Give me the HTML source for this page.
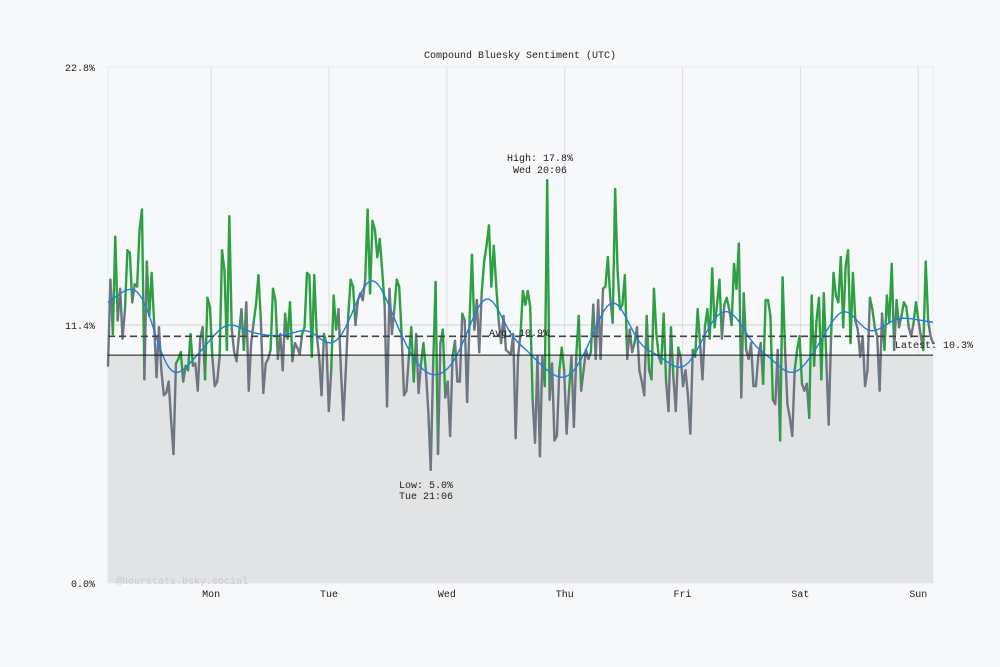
<!DOCTYPE html>
<html><head><meta charset="utf-8"><style>
body{margin:0;background:#f7f8fa;}
svg{display:block;font-family:"Liberation Mono","DejaVu Sans Mono",monospace;}
</style></head><body>
<svg id="chart" width="1000" height="667" viewBox="0 0 1000 667" xmlns="http://www.w3.org/2000/svg">
<rect x="0" y="0" width="1000" height="667" fill="#f7f8fa"/>
<text x="520" y="58" font-size="10" text-anchor="middle" fill="#222">Compound Bluesky Sentiment (UTC)</text>
<g id="grid"></g>
<g id="fill"></g>
<g id="series"></g>
<g id="ann"></g>
<g id="axes"></g>
</svg>
<script>
const yTicks = [0, 11.4, 22.8];
const yTickLabels = ["0.0%", "11.4%", "22.8%"];
const dayLabels = ["Mon","Tue","Wed","Thu","Fri","Sat","Sun"];
const dayOffsets = [0.875,1.875,2.875,3.875,4.875,5.875,6.875];
const avgValue = 10.9;
const latestValue = 10.07;
const values = [
9.6,13.4,11.0,15.3,11.6,13.0,10.8,12.1,14.7,14.6,12.4,13.2,13.1,15.6,16.5,9.0,14.2,11.8,13.7,11.5,9.1,11.3,9.4,8.3,8.4,8.9,7.2,5.7,9.7,9.9,10.2,8.9,9.6,9.4,11.0,9.6,9.7,8.5,10.8,11.3,9.0,12.6,12.2,10.0,8.7,8.9,10.0,14.7,13.8,10.3,16.2,11.2,10.2,9.8,11.0,12.1,10.3,12.4,8.5,10.6,11.5,12.3,13.6,11.6,8.4,9.7,9.9,10.3,13.0,12.5,9.9,11.0,9.4,11.9,10.8,12.4,9.8,10.6,10.4,10.1,11.0,11.3,13.7,13.6,10.0,
13.6,11.0,10.0,8.3,11.0,10.6,7.6,9.4,12.7,11.2,12.1,9.4,7.2,9.4,11.8,13.4,13.1,11.4,12.5,12.8,12.5,13.4,16.5,12.8,16.0,15.6,14.4,15.2,13.8,12.3,7.8,13.0,11.0,12.1,13.4,13.1,11.0,8.3,8.5,10.0,11.3,8.9,11.0,8.4,9.7,10.6,9.4,7.6,5.0,9.6,13.3,5.7,10.6,11.2,8.2,8.9,6.5,10.0,10.7,8.9,8.9,11.9,11.6,8.0,11.6,14.5,11.2,12.5,10.2,12.8,14.2,14.9,15.8,13.1,14.9,13.1,11.6,10.6,11.8,10.3,10.2,10.1,11.0,6.4,10.0,11.0,12.9,12.3,
12.9,12.2,8.1,6.2,10.0,5.6,10.0,8.7,17.8,8.1,9.7,6.3,6.5,9.4,10.4,9.4,6.6,8.5,10.0,6.9,10.1,11.8,8.5,9.4,10.3,9.9,10.2,12.3,9.9,12.5,9.9,13.0,13.1,14.4,12.6,11.5,17.4,13.8,12.1,12.3,13.6,9.9,11.2,10.2,10.6,11.3,9.4,8.9,8.3,11.8,9.4,9.0,13.0,11.0,10.0,9.7,11.9,8.9,7.6,11.3,9.1,7.6,10.4,10.0,8.7,9.4,8.3,6.6,10.3,10.0,12.1,10.6,9.0,11.3,12.1,10.8,13.9,11.3,12.3,13.4,10.8,12.3,12.6,
12.1,11.4,14.1,13.0,15.0,8.2,12.8,10.3,9.9,10.6,8.7,8.7,10.0,10.6,8.8,12.5,12.5,11.8,8.1,7.9,10.3,6.3,13.5,10.4,7.9,7.3,6.5,9.4,10.3,10.9,8.8,8.5,8.8,7.3,12.7,9.6,11.6,12.6,9.0,12.8,10.0,7.0,10.9,13.7,12.7,12.4,14.4,11.3,14.0,14.7,10.6,13.7,11.6,11.2,10.0,10.9,8.7,9.4,12.6,12.1,11.3,10.9,8.5,11.9,10.3,12.7,11.5,14.1,10.3,12.5,11.3,11.8,12.4,12.2,11.3,10.9,11.5,12.4,11.6,10.9,10.3,14.2,11.6,10.9,10.6
];
const X0=108, X1=933, Y0=583, Y1=67, YMAX=22.8, DAYW=(X1-X0)/7;
const NS="http://www.w3.org/2000/svg";
function xAt(i){return X0+(X1-X0)*i/(values.length-1);}
function yAt(v){return Y0-(Y0-Y1)*v/YMAX;}
function mk(tag,attrs,parent){const e=document.createElementNS(NS,tag);for(const k in attrs)e.setAttribute(k,attrs[k]);parent.appendChild(e);return e;}
const grid=document.getElementById('grid'),fill=document.getElementById('fill'),series=document.getElementById('series'),ann=document.getElementById('ann'),axes=document.getElementById('axes');
const pb=mk('rect',{x:X0,y:Y1,width:X1-X0,height:Y0-Y1,fill:'#f7f8fa',stroke:'#e8eaed'},grid);


dayOffsets.forEach((d,i)=>{
  const x=X0+d*DAYW;
  const l=mk('line',{x1:x,x2:x,y1:Y1,y2:Y0,stroke:'#dcdee2','stroke-width':1},grid);
  
  
  const t=mk('text',{x:x,y:Y0+14,'font-size':10,'text-anchor':'middle',fill:'#222'},axes);
  t.textContent=dayLabels[i];
  
  
});
yTicks.forEach((v,i)=>{
  const y=yAt(v);
  if(v>0&&v<YMAX){const l=mk('line',{x1:X0,x2:X1,y1:y,y2:y,stroke:'#d0d2d6','stroke-width':1},grid);
  
  }
  const t=mk('text',{x:95,y:y+4,'font-size':10,'text-anchor':'end',fill:'#222'},axes);
  t.textContent=yTickLabels[i];
  
  
});
const fr=mk('rect',{x:X0,y:yAt(latestValue),width:X1-X0,height:Y0-yAt(latestValue),fill:'#e2e3e5'},fill);


const sigma=5.5, smooth=values.map((_,i)=>{let s=0,w=0;for(let j=-18;j<=18;j++){const k=i+j;if(k<0||k>=values.length)continue;const g=Math.exp(-j*j/(2*sigma*sigma));s+=g*values[k];w+=g;}return s/w;});
for(let i=0;i<values.length-1;i++){
  const mid=(values[i]+values[i+1])/2, sm=(smooth[i]+smooth[i+1])/2;
  const seg=mk('line',{x1:xAt(i),y1:yAt(values[i]),x2:xAt(i+1),y2:yAt(values[i+1]),stroke:mid>=sm?'#2ea043':'#6e7681','stroke-width':2.4,'stroke-linecap':'round'},series);
  
  
}
const sp=mk('polyline',{points:smooth.map((v,i)=>xAt(i)+','+yAt(v)).join(' '),fill:'none',stroke:'#1f7fd8','stroke-width':1.4},series);


const al=mk('line',{x1:X0,x2:X1,y1:yAt(avgValue),y2:yAt(avgValue),stroke:'#444','stroke-width':1.6,'stroke-dasharray':'7,4'},ann);


const ll=mk('line',{x1:X0,x2:X1,y1:yAt(latestValue),y2:yAt(latestValue),stroke:'#111','stroke-width':1},ann);


function txt(x,y,s,name,anchor,col){const t=mk('text',{x:x,y:y,'font-size':10,'text-anchor':anchor||'middle',fill:col||'#222'},ann);t.textContent=s;return t;}
txt(519,336,'Avg: 10.9%','average-label');
txt(973,348,'Latest: 10.3%','latest-label','end');
txt(540,161,'High: 17.8%','high-label');
txt(540,173,'Wed 20:06','high-time-label');
txt(426,488,'Low: 5.0%','low-label');
txt(426,499,'Tue 21:06','low-time-label');
txt(116,584,'@hourstats.bsky.social','watermark','start','#c8cacd');
</script>
</body></html>
